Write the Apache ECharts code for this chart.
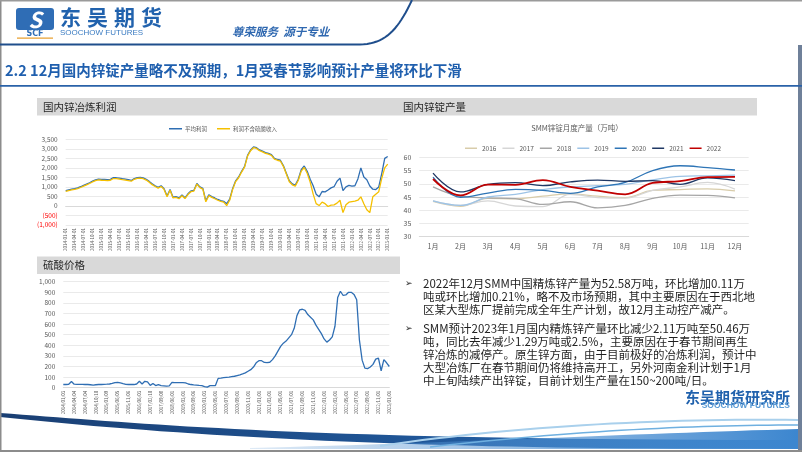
<!DOCTYPE html>
<html><head><meta charset="utf-8">
<script src="https://cdn.jsdelivr.net/npm/echarts@6/dist/echarts.min.js"></script>
<style>html,body{margin:0;padding:0;background:#fff;overflow:hidden}#c{width:802px;height:452px}</style>
</head><body><div id="c"></div><script>
const FONT = '"Noto Sans CJK SC","Microsoft YaHei",sans-serif';

// ---------- Chart 1: 国内锌冶炼利润 ----------
const profitTicks = ['2014-01-01','2014-04-01','2014-07-01','2014-10-01','2015-01-01','2015-04-01','2015-07-01','2015-10-01',
 '2016-01-01','2016-04-01','2016-07-01','2016-10-01','2017-01-01','2017-04-01','2017-07-01','2017-10-01',
 '2018-01-01','2018-04-01','2018-07-01','2018-10-01','2019-01-01','2019-04-01','2019-07-01','2019-10-01',
 '2020-01-01','2020-04-01','2020-07-01','2020-10-01','2021-01-01','2021-04-01','2021-07-01','2021-10-01',
 '2022-01-01','2022-04-01','2022-07-01','2022-10-01','2023-01-01'];
// monthly values, 2014-01 .. 2023-01
const profitAvg = [800,840,880,910,950,1010,1080,1150,1220,1300,1370,1410,
 1400,1390,1380,1400,1490,1480,1460,1430,1410,1380,1340,1440,
 1490,1500,1470,1400,1290,1160,1060,980,1060,900,520,860,
 460,490,420,580,430,640,790,820,1180,1000,920,270,
 580,490,420,340,280,240,120,360,920,1320,1520,1820,
 2080,2660,2940,3100,3060,2940,2880,2800,2760,2700,2500,2440,
 2400,2120,1720,1320,1160,1100,1400,1900,2100,1820,1400,1060,
 620,480,760,740,840,950,1010,1300,1460,800,1000,1080,
 1040,1060,1420,2000,1520,1380,1050,880,860,1000,1700,2500,
 2600];
const profitNoAcid = [760,800,840,870,910,970,1040,1110,1180,1260,1330,1370,
 1350,1340,1330,1350,1440,1430,1410,1380,1360,1330,1300,1400,
 1450,1460,1430,1360,1250,1120,1020,940,1020,870,480,830,
 420,450,380,540,390,600,750,780,1150,960,880,220,
 540,450,380,300,240,200,20,300,870,1280,1480,1780,
 2040,2620,2900,3060,3020,2900,2840,2760,2720,2660,2460,2400,
 2360,2080,1680,1270,1110,1040,1340,1830,2020,1720,1250,620,
 120,20,200,120,-30,40,60,150,300,-350,60,200,
 230,250,300,480,120,-200,-350,480,620,750,1450,2000,
 2200];

// ---------- Chart 2: SMM锌锭月度产量 ----------
const months = ['1月','2月','3月','4月','5月','6月','7月','8月','9月','10月','11月','12月'];
const years = ['2016','2017','2018','2019','2020','2021','2022'];
const zn2016 = [43.3,41.5,44.5,44.3,45.3,46.2,45.3,44.8,47.5,47.8,48.1,47.3];
const zn2017 = [43.5,41.8,43.5,41.6,41.4,46.0,44.8,44.6,47.5,48.8,50.5,48.0];
const zn2018 = [48.8,45.3,44.7,44.4,42.2,43.2,40.9,41.8,44.5,45.7,45.6,44.7];
const zn2019 = [43.5,41.8,45.0,46.0,47.8,48.8,49.3,49.8,51.5,52.8,53.0,53.3];
const zn2020 = [52.5,44.9,46.5,47.9,47.5,46.4,48.8,50.5,55.0,56.8,56.1,55.2];
const zn2021 = [54.0,46.9,49.8,50.4,49.3,50.7,51.4,50.9,51.2,49.8,52.2,51.2];
const zn2022 = [51.8,45.6,49.7,49.6,51.4,48.8,47.4,46.0,50.3,51.0,52.5,52.6];
const znColors = ['#d8ccaa','#d6d6d6','#a6a6a6','#9dc3e6','#2e75b6','#1f3864','#c00000'];

// ---------- Chart 3: 硫酸价格 ----------
const acidTicks = ['2014/01/03','2014/04/04','2014/07/04','2014/10/10','2015/01/09','2015/06/05','2015/11/06',
 '2016/06/03','2017/02/10','2017/09/08','2018/06/01','2019/03/01','2019/09/06','2020/01/03',
 '2020/05/01','2020/07/01','2020/09/01','2020/11/01','2021/01/01','2021/03/01','2021/05/01','2021/07/01',
 '2021/09/01','2021/11/01','2022/01/01','2022/03/01','2022/05/01','2022/07/01','2022/09/01','2022/11/01','2023/01/01'];
// 4 observations per tick interval
const acidPrice = [30,30,32,58,33,32,31,31,30,30,28,25,28,30,30,32,33,35,40,48,
 50,45,38,32,30,30,30,35,60,35,60,55,22,40,20,30,20,18,15,18,
 50,48,48,48,48,45,35,30,27,25,22,20,10,5,20,20,20,88,90,95,
 98,100,104,108,115,122,130,140,155,170,195,235,255,255,238,236,240,265,300,345,
 390,420,440,470,500,560,680,735,740,730,690,665,640,590,550,510,460,430,450,480,
 580,850,910,870,875,900,900,880,830,450,260,185,180,195,220,270,280,160,265,235,
 200];

const gray = '#595959';
function thou(v){ return Math.abs(v).toString().replace(/\B(?=(\d{3})+(?!\d))/g, ','); }

function bez(p0,p1,p2,p3,n){
  const pts=[];
  for(let i=0;i<=n;i++){const t=i/n,u=1-t;
    pts.push([u*u*u*p0[0]+3*u*u*t*p1[0]+3*u*t*t*p2[0]+t*t*t*p3[0],
              u*u*u*p0[1]+3*u*u*t*p1[1]+3*u*t*t*p2[1]+t*t*t*p3[1]]);}
  return pts;
}

const chart = echarts.init(document.getElementById('c'), null, {renderer:'canvas'});

function txt(x,y,text,font,fill,align,extra){
  return Object.assign({type:'text', x:x, y:y, silent:true,
    style:{text:text, font:font, fill:fill, textAlign:align||'left', textVerticalAlign:'middle'}}, extra||{});
}

const bodyLines = [
 ['2022年12月SMM中国精炼锌产量为52.58万吨，环比增加0.11万',284],
 ['吨或环比增加0.21%，略不及市场预期，其中主要原因在于西北地',297],
 ['区某大型炼厂提前完成全年生产计划，故12月主动控产减产。',310],
 ['SMM预计2023年1月国内精炼锌产量环比减少2.11万吨至50.46万',329],
 ['吨，同比去年减少1.29万吨或2.5%，主要原因在于春节期间再生',342],
 ['锌冶炼的减停产。原生锌方面，由于目前极好的冶炼利润，预计中',355],
 ['大型冶炼厂在春节期间仍将维持高开工，另外河南金利计划于1月',368],
 ['中上旬陆续产出锌锭，目前计划生产量在150~200吨/日。',381]
];

const graphics = [];
// bottom swooshes (drawn first, below text)
graphics.push({type:'polygon', shape:{points:bez([0,413],[150,424],[300,440],[802,440],40).concat(bez([802,448],[450,451],[200,438],[0,417],40))},
  style:{fill:new echarts.graphic.LinearGradient(0,0,1,0,[{offset:0,color:'#1a3f73'},{offset:0.5,color:'#1f5596'},{offset:1,color:'#2d76c2'}])}, silent:true});
graphics.push({type:'polygon', shape:{points:bez([250,448],[450,443],[650,433],[798,429],30).concat([[798,449],[250,449]])},
  style:{fill:new echarts.graphic.LinearGradient(0,0,1,0,[{offset:0,color:'rgba(90,150,210,0.2)'},{offset:1,color:'#3c86cf'}])}, silent:true});
graphics.push({type:'polyline', shape:{points:bez([380,446],[520,425],[680,418],[798,420],30)}, style:{stroke:'#a9d0ec',lineWidth:2,fill:null}, silent:true});
graphics.push({type:'polyline', shape:{points:bez([430,447],[580,430],[700,425],[798,425],30)}, style:{stroke:'#6fb0e0',lineWidth:1.5,fill:null}, silent:true});
// borders
graphics.push({type:'rect', shape:{x:0,y:0,width:1.5,height:452}, style:{fill:'#8c8c8c'}, silent:true});
graphics.push({type:'rect', shape:{x:0,y:0,width:802,height:1.5}, style:{fill:'#9a9a9a'}, silent:true});
graphics.push({type:'rect', shape:{x:798,y:45,width:4,height:407}, style:{fill:'#6f8099'}, silent:true});
graphics.push({type:'rect', shape:{x:0,y:450,width:802,height:2}, style:{fill:'#8c8c8c'}, silent:true});
// header line with curve
graphics.push({type:'polyline', shape:{points:[[0,44.5],[360,44.5]].concat(bez([360,44.5],[385,44],[398,30],[412,0],20))}, style:{stroke:'#1f4e8c',lineWidth:2,fill:null}, silent:true});
// logo
graphics.push({type:'rect', shape:{x:16,y:8,width:38,height:22,r:3}, style:{fill:'#2f6db5'}, silent:true});
graphics.push(txt(35,19.5,'S','bold italic 22px '+FONT,'#ffffff','center'));
graphics.push(txt(35,34,'SCF','bold 8px "DejaVu Sans",sans-serif','#2f6db5','center'));
graphics.push({type:'rect', shape:{x:17,y:37.5,width:36,height:1.2}, style:{fill:'#e8a030'}, silent:true});
['东','吴','期','货'].forEach((c,i)=>graphics.push(txt(60+i*27,17,c,'bold 21px '+FONT,'#2162ad','left')));
graphics.push(txt(60,33,'SOOCHOW FUTURES','8px "Liberation Sans",sans-serif','#3b7cc2','left'));
graphics.push(txt(232,32,'尊荣服务  源于专业','italic bold 11.5px '+FONT,'#2f68b0','left'));
// section title
graphics.push(txt(5,70,'2.2 12月国内锌锭产量略不及预期，1月受春节影响预计产量将环比下滑','bold 14.5px '+FONT,'#1f5fae','left'));
graphics.push({type:'rect', shape:{x:0,y:85,width:802,height:1.8}, style:{fill:'#2a62a8'}, silent:true});
// title bars
graphics.push({type:'rect', shape:{x:37,y:98,width:363,height:17.5}, style:{fill:'#d9d9d9'}, silent:true});
graphics.push(txt(43,107,'国内锌冶炼利润','10.5px '+FONT,'#262626','left'));
graphics.push({type:'rect', shape:{x:400,y:98,width:357,height:17.5}, style:{fill:'#d9d9d9'}, silent:true});
graphics.push(txt(403,107,'国内锌锭产量','10.5px '+FONT,'#262626','left'));
graphics.push({type:'rect', shape:{x:37,y:256.5,width:363,height:17.5}, style:{fill:'#d9d9d9'}, silent:true});
graphics.push(txt(43,265,'硫酸价格','10.5px '+FONT,'#262626','left'));
graphics.push(txt(577,128,'SMM锌锭月度产量（万吨）','7.5px '+FONT,gray,'center'));
// body text
graphics.push(txt(405,284,'➢','9px "DejaVu Sans",sans-serif','#262626','left'));
graphics.push(txt(405,329,'➢','9px "DejaVu Sans",sans-serif','#262626','left'));
bodyLines.forEach(l=>graphics.push(txt(423,l[1],l[0],'11.5px '+FONT,'#1f1f1f','left')));
// bottom-right logo
graphics.push(txt(790,397,'东吴期货研究所','bold 15px '+FONT,'#2162ad','right'));
graphics.push(txt(790,406,'SOOCHOW FUTURES','bold 8.5px "Liberation Sans",sans-serif','#5b9bd5','right'));

const axisLbl = {fontFamily:FONT, color:gray};

const option = {
  animation:false,
  backgroundColor:'#ffffff',
  textStyle:{fontFamily:FONT},
  graphic: graphics,
  legend:[
    {data:['平均利润','利润不含硫酸收入'], left:164, top:121, icon:'rect', itemWidth:13, itemHeight:1.5, itemGap:10,
     textStyle:{fontSize:5.5, color:gray, fontFamily:FONT, padding:[0,0,0,-2]}},
    {data:years, left:460, top:140, icon:'rect', itemWidth:12, itemHeight:1.5, itemGap:6,
     textStyle:{fontSize:6.5, color:gray, fontFamily:FONT}}
  ],
  grid:[
    {left:65.7, top:139.3, width:322, height:85.7},
    {left:419.3, top:157.3, width:329.4, height:79.4},
    {left:63.3, top:281.7, width:326, height:106}
  ],
  xAxis:[
    {gridIndex:0, type:'value', min:0, max:108, interval:3,
     axisLine:{lineStyle:{color:'#d9d9d9'}}, axisTick:{show:false}, splitLine:{show:false},
     axisLabel:Object.assign({fontSize:4.5, rotate:90, margin:3, formatter:v=>profitTicks[Math.round(v/3)]||''}, axisLbl)},
    {gridIndex:1, type:'category', data:months, boundaryGap:true,
     axisLine:{lineStyle:{color:'#d9d9d9'}}, axisTick:{show:false},
     axisLabel:Object.assign({fontSize:7, margin:6}, axisLbl)},
    {gridIndex:2, type:'value', min:0, max:120, interval:4,
     axisLine:{lineStyle:{color:'#d9d9d9'}}, axisTick:{show:false}, splitLine:{show:false},
     axisLabel:Object.assign({fontSize:4.5, rotate:90, margin:3, formatter:v=>acidTicks[Math.round(v/4)]||''}, axisLbl)}
  ],
  yAxis:[
    {gridIndex:0, type:'value', min:-1000, max:3500, interval:500,
     axisLine:{show:false}, axisTick:{show:false}, splitLine:{lineStyle:{color:'#e4e4e4', width:0.8}},
     axisLabel:Object.assign({fontSize:6.5, margin:8,
       formatter:v=> v<0 ? '{neg|('+thou(v)+')}' : thou(v),
       rich:{neg:{color:'#ff0000', fontSize:6.5, fontFamily:FONT}}}, axisLbl)},
    {gridIndex:1, type:'value', min:30, max:60, interval:5,
     axisLine:{show:false}, axisTick:{show:false}, splitLine:{lineStyle:{color:'#e4e4e4', width:0.8}},
     axisLabel:Object.assign({fontSize:7, margin:8}, axisLbl)},
    {gridIndex:2, type:'value', min:0, max:1000, interval:100,
     axisLine:{show:false}, axisTick:{show:false}, splitLine:{lineStyle:{color:'#e4e4e4', width:0.8}},
     axisLabel:Object.assign({fontSize:6.5, margin:8, formatter:v=>thou(v)}, axisLbl)}
  ],
  series:[
    {name:'平均利润', type:'line', xAxisIndex:0, yAxisIndex:0, symbol:'none',
     data:profitAvg.map((v,i)=>[i,v]), lineStyle:{color:'#2f6eb3', width:1.3}, itemStyle:{color:'#2f6eb3'}},
    {name:'利润不含硫酸收入', type:'line', xAxisIndex:0, yAxisIndex:0, symbol:'none',
     data:profitNoAcid.map((v,i)=>[i,v]), lineStyle:{color:'#f5c000', width:1.3}, itemStyle:{color:'#f5c000'}},
  ].concat([zn2016,zn2017,zn2018,zn2019,zn2020,zn2021,zn2022].map((d,k)=>({
     name:years[k], type:'line', xAxisIndex:1, yAxisIndex:1, symbol:'none', smooth:0.4,
     data:d, lineStyle:{color:znColors[k], width:k===6?1.8:1.3}, itemStyle:{color:znColors[k]}, z:2+k
  }))).concat([
    {name:'硫酸价格', type:'line', xAxisIndex:2, yAxisIndex:2, symbol:'none',
     data:acidPrice.map((v,i)=>[i,v]), lineStyle:{color:'#2f6eb3', width:1.3}, itemStyle:{color:'#2f6eb3'}}
  ])
};
chart.setOption(option);
</script></body></html>
